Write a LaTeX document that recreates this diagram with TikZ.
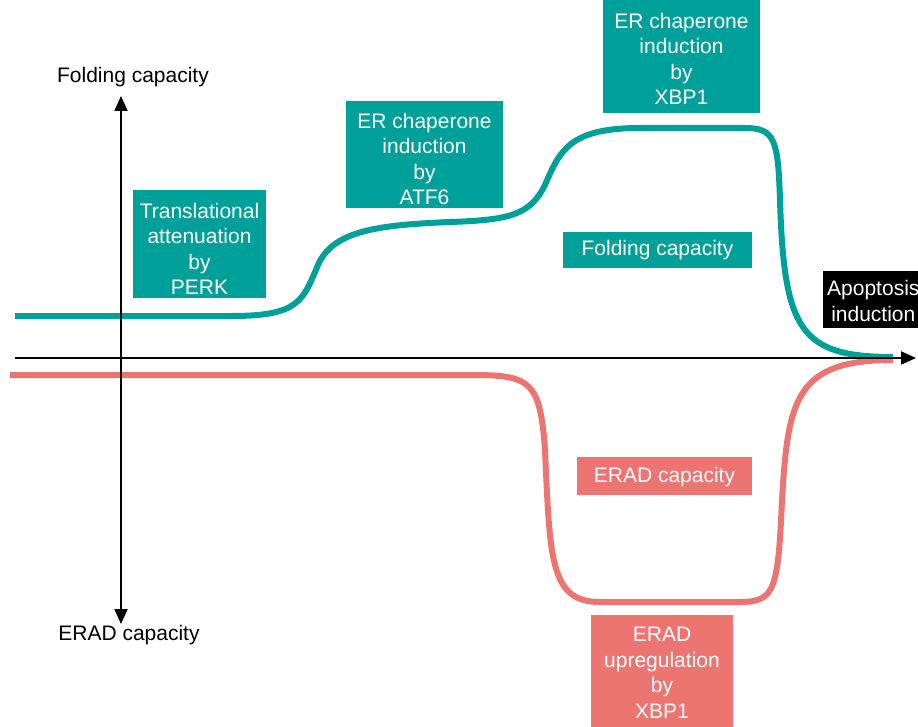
\documentclass[tikz,border=0pt]{standalone}
\usepackage{fontspec}
\setmainfont{Liberation Sans}
\usetikzlibrary{arrows.meta}
\definecolor{teal1}{RGB}{0,160,154}
\definecolor{salm}{RGB}{236,117,114}
\tikzset{
  axis/.style={line width=2pt,-{Triangle[length=15pt,width=13pt]}},
  lbl/.style={font=\fontsize{21}{25.5}\selectfont,text=black},
  tbox/.style={fill=teal1,text=white,align=center,font=\fontsize{21}{25.5}\selectfont,inner sep=0pt},
  sbox/.style={fill=salm,text=white,align=center,font=\fontsize{21}{25.5}\selectfont,inner sep=0pt},
  kbox/.style={fill=black,text=white,align=center,font=\fontsize{21}{25.5}\selectfont,inner sep=0pt},
  tcurve/.style={draw=teal1,line width=6pt},
  scurve/.style={draw=salm,line width=6pt}
}
\begin{document}
\begin{tikzpicture}[x=1pt,y=-1pt]
\useasboundingbox (0,0) rectangle (918,727);
% curves
\draw[tcurve] (15,316) -- (232,316)
  .. controls (300,316) and (303,300) .. (318,265)
  .. controls (333,230) and (380,225) .. (450,222)
  .. controls (510,220) and (530,215) .. (545,185)
  .. controls (560,150) and (570,128) .. (640,128)
  -- (745,128)
  .. controls (775,128) and (778,140) .. (780,200)
  .. controls (784,330) and (800,357) .. (893,357);
\draw[scurve] (10,375) -- (470,375)
  .. controls (530,375) and (540,380) .. (545,450)
  .. controls (550,560) and (550,602) .. (600,602)
  -- (740,602)
  .. controls (775,602) and (778,590) .. (782,500)
  .. controls (788,400) and (795,360) .. (893,360);
% axes
\coordinate (hx0) at (15,358);
\coordinate (hx1) at (916,358);
\coordinate (vc) at (121,358);
\coordinate (vt) at (121,96);
\coordinate (vb) at (121,624);
\draw[axis] (hx0) -- (hx1);
\draw[axis] (vc) -- (vt);
\draw[axis] (vc) -- (vb);
% labels
\node[lbl] (fc) at (133,77) {Folding capacity};
\node[lbl] (ec) at (129,635) {ERAD capacity};
% boxes
\path[fill=teal1] (133,190) rectangle (266,298);
\node[tbox] (perk) at (199.5,249) {Translational\\attenuation\\by\\PERK};
\path[fill=teal1] (346,101) rectangle (503,208);
\node[tbox] (atf6) at (424.5,159) {ER chaperone\\induction\\by\\ATF6};
\path[fill=teal1] (603,0) rectangle (760,113);
\node[tbox] (xbp1) at (681.5,59) {ER chaperone\\induction\\by\\XBP1};
\path[fill=teal1] (563,232) rectangle (752,268);
\node[tbox] (fcap) at (657.5,250) {Folding capacity};
\path[fill=black] (823,271) rectangle (930,328);
\node[kbox,anchor=west] (apo) at (827,301) {Apoptosis\\induction};
\path[fill=salm] (577,457) rectangle (752,495);
\node[sbox] (erad) at (664.5,477) {ERAD capacity};
\path[fill=salm] (591,615) rectangle (733,727);
\node[sbox] (up) at (662,673) {ERAD\\upregulation\\by\\XBP1};
\end{tikzpicture}
\end{document}
